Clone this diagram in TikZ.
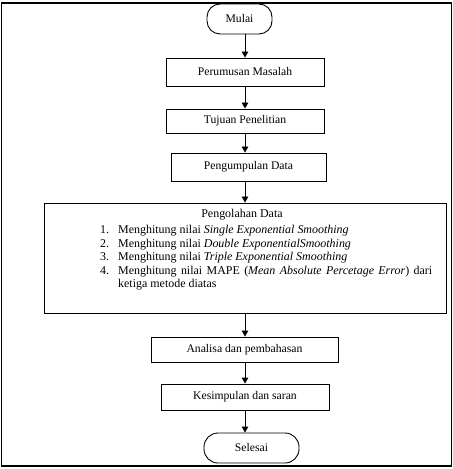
\documentclass[tikz,border=0pt]{standalone}
\usepackage{fontspec}
\setmainfont{Liberation Serif}
\usetikzlibrary{arrows.meta}
\newcommand\fs{\fontsize{11.7}{13.5}\selectfont}
\newcommand\fsl{\fontsize{12}{13.6}\selectfont}
\begin{document}
\begin{tikzpicture}[x=1bp,y=-1bp,
  box/.style={draw, line width=0.9bp, inner sep=0pt, font=\fs},
  term/.style={draw, line width=0.9bp, rounded corners=13bp, inner sep=0pt, font=\fs},
  arr/.style={-{Triangle[length=6bp,width=6.5bp]}, line width=0.9bp},
  frame/.style={draw, line width=1.1bp}]
\useasboundingbox (0,0) rectangle (453,469);
\draw[frame] (1.5,3) rectangle (451.5,466);
\coordinate (ax) at (245,0);
\node[term, minimum width=65bp, minimum height=30bp] (m) at (239.5,19) {Mulai};
\node[box, minimum width=158bp, minimum height=28bp] (pm) at (245,72) {Perumusan Masalah};
\node[box, minimum width=158bp, minimum height=24bp] (tp) at (245,121) {Tujuan Penelitian};
\node[box, minimum width=155bp, minimum height=28bp] (pd) at (248.5,167) {Pengumpulan Data};
\node[box, minimum width=402bp, minimum height=110bp] (po) at (245,258) {};
\node[font=\fsl, inner sep=0pt] (pot) at (242,215) {Pengolahan Data};
\node[font=\fsl, inner sep=0pt, anchor=north west] (pol) at (100,224) {%
  \renewcommand\arraystretch{1}%
  \begin{tabular}{@{}p{18bp}@{}l@{}}
  1. & Menghitung nilai \textit{Single Exponential Smoothing}\\
  2. & Menghitung nilai \textit{Double ExponentialSmoothing}\\
  3. & Menghitung nilai \textit{Triple Exponential Smoothing}\\
  4. & \makebox[314bp][s]{Menghitung nilai MAPE (\textit{Mean Absolute Percetage Error}) dari}\\
     & ketiga metode diatas
  \end{tabular}};
\node[box, minimum width=187bp, minimum height=25bp] (an) at (244.5,349.5) {Analisa dan pembahasan};
\node[box, minimum width=168bp, minimum height=26bp] (ks) at (245,397) {Kesimpulan dan saran};
\node[term, minimum width=95bp, minimum height=30bp, rounded corners=14bp] (sl) at (251.5,448) {Selesai};
\draw[arr] (m.south -| ax) -- (pm.north -| ax);
\draw[arr] (pm.south -| ax) -- (tp.north -| ax);
\draw[arr] (tp.south -| ax) -- (pd.north -| ax);
\draw[arr] (pd.south -| ax) -- (po.north -| ax);
\draw[arr] (po.south -| ax) -- (an.north -| ax);
\draw[arr] (an.south -| ax) -- (ks.north -| ax);
\draw[arr] (ks.south -| ax) -- (sl.north -| ax);
\end{tikzpicture}
\end{document}
